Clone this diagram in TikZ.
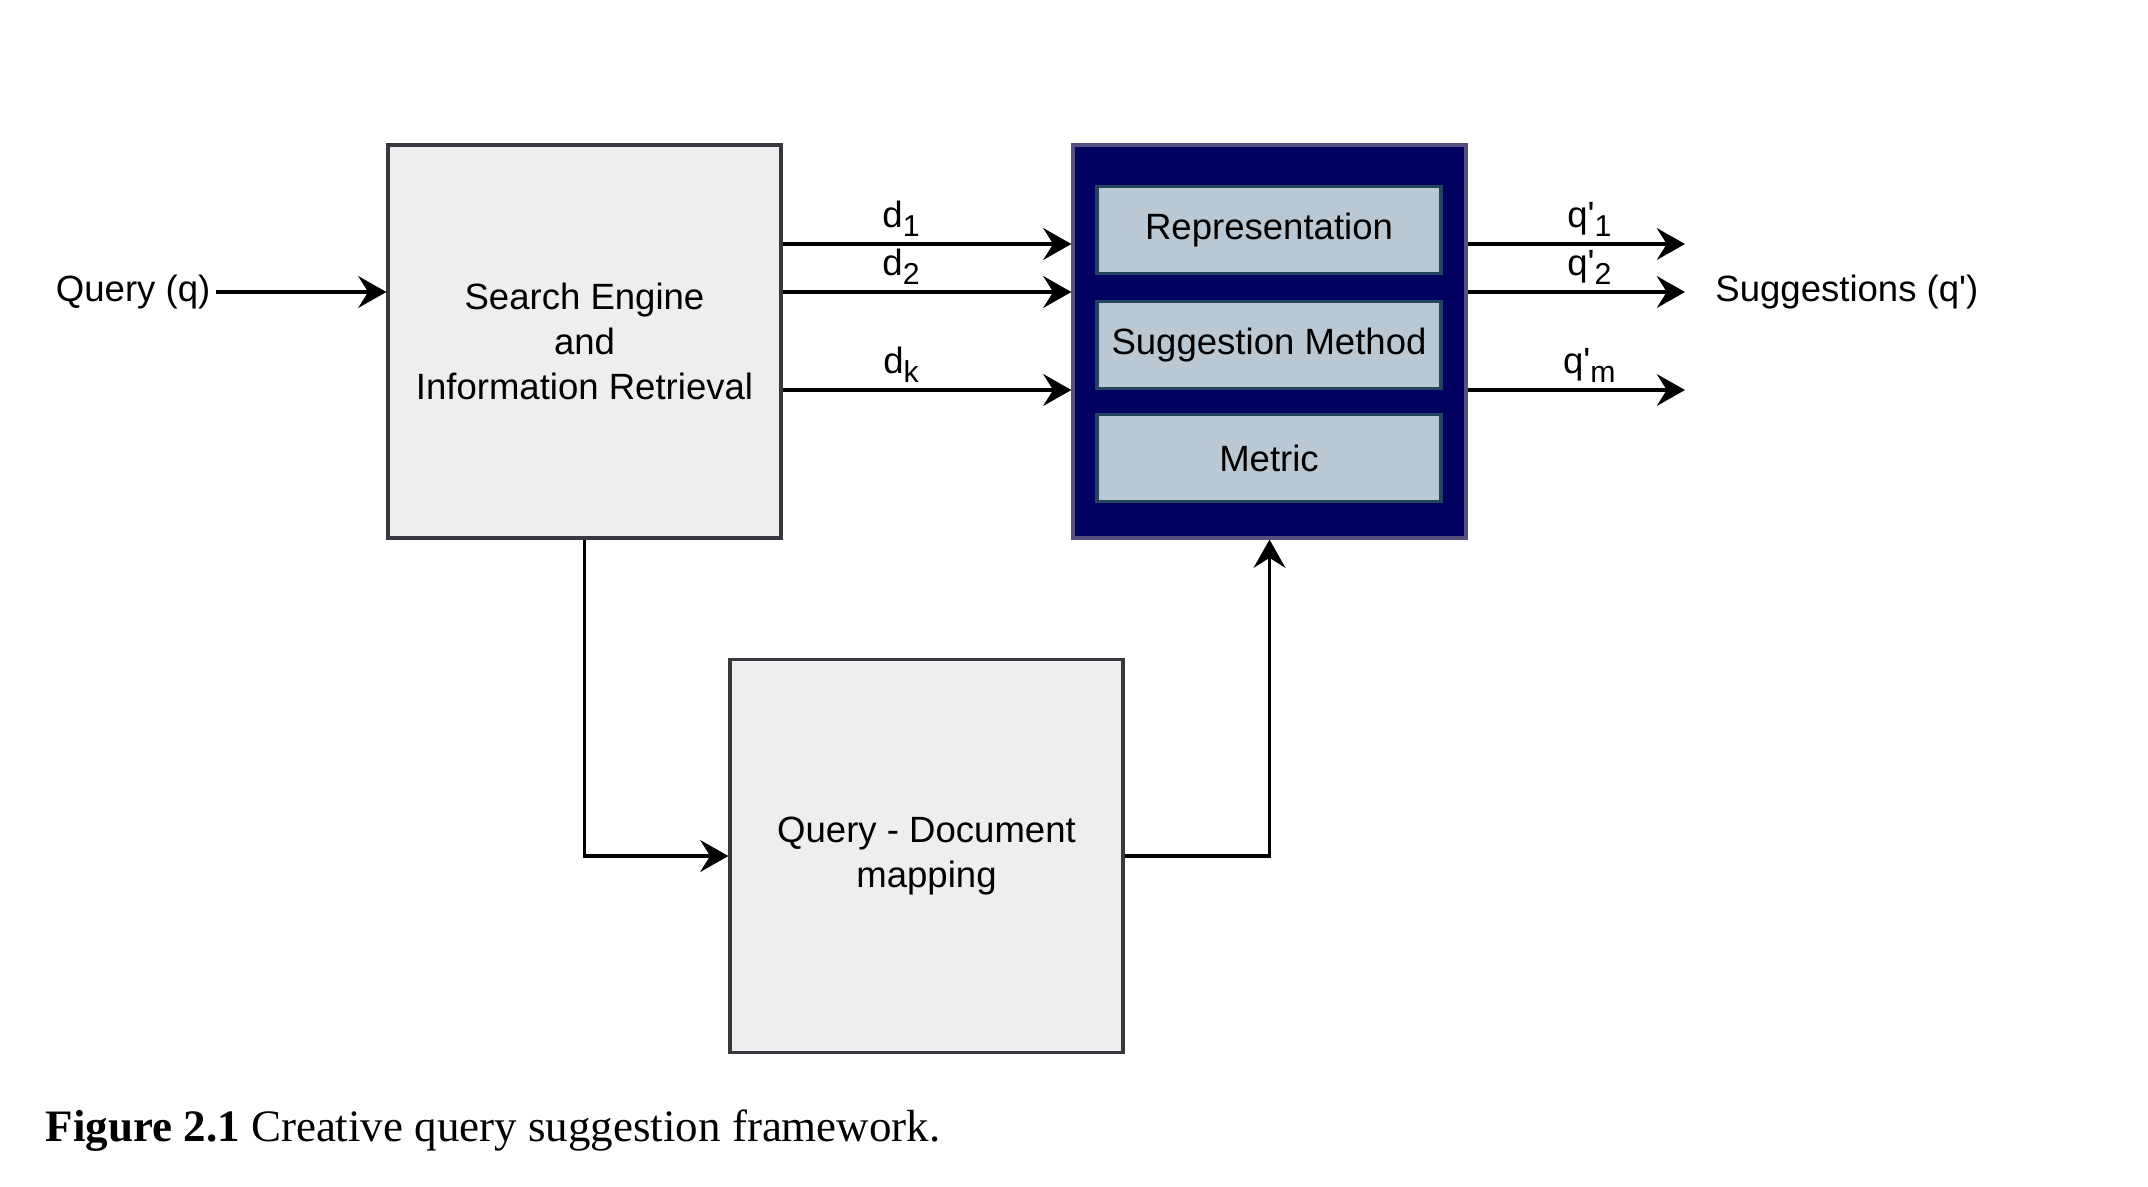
\documentclass[tikz,border=0pt]{standalone}
\usepackage{fontspec}
\setmainfont{Liberation Sans}
\newfontfamily\capfont{Liberation Serif}
\usetikzlibrary{arrows.meta, positioning}

\definecolor{boxfill}{HTML}{EEEEEE}
\definecolor{boxline}{HTML}{36393D}
\definecolor{navyfill}{HTML}{000060}
\definecolor{navyline}{HTML}{56517E}
\definecolor{partfill}{HTML}{BAC8D3}
\definecolor{partline}{HTML}{23445D}

\newcommand{\lowsub}[1]{\raisebox{-2.6pt}{\fontsize{8.6}{8.6}\selectfont #1}}
\newcommand{\qp}{q\textquotesingle}

\begin{document}
\begin{tikzpicture}[
    font=\fontsize{10.4}{12.7}\selectfont,
    arr/.style={-{Stealth[length=8pt,width=9pt,inset=2.8pt]}, line width=1.1pt},
    graybox/.style={draw=boxline, fill=boxfill, line width=0.9pt, minimum width=3.93cm, minimum height=3.93cm, align=center, inner sep=0pt},
    navybox/.style={draw=navyline, fill=navyfill, line width=0.9pt, minimum width=3.93cm, minimum height=3.93cm, inner sep=0pt},
    partbox/.style={draw=partline, fill=partfill, line width=1.1pt, minimum width=3.44cm, minimum height=0.87cm, inner sep=0pt},
    lbl/.style={anchor=base, yshift=4.8pt}
  ]
    \useasboundingbox (0,0) rectangle (21.48,-11.86);

    % blocks
    \node[graybox] (se) at (5.845,-3.415) {Search Engine\\and\\Information Retrieval};
    \node[navybox] (fw) at (12.695,-3.415) {};
    \node[partbox] (rep) at (12.69,-2.30) {Representation};
    \node[partbox] (sm) at (12.69,-3.45) {Suggestion Method};
    \node[partbox] (met) at (12.69,-4.58) {Metric};
    \node[graybox] (qd) at (9.265,-8.56) {Query - Document\\mapping};

    % input and output
    \node[anchor=east, inner sep=0pt] (q) at (2.11,-2.92) {Query (q)};
    \node[anchor=west] (sug) at (17.03,-2.92) {Suggestions (\qp)};
    \coordinate (tip) at (16.85,-2.92);
    \draw[arr] ([xshift=1.5pt]q.east) -- (se.west |- q.east);

    % documents
    \foreach \yy/\lab in {-2.44/d\lowsub{1}, -2.92/d\lowsub{2}, -3.90/d\lowsub{k}}
      \draw[arr] (se.east |- 0,\yy) -- (fw.west |- 0,\yy) node[lbl, pos=0.41] {\lab};

    % suggestions
    \foreach \yy/\lab in {-2.44/\qp\lowsub{1}, -2.92/\qp\lowsub{2}, -3.90/\qp\lowsub{m}}
      \draw[arr] (fw.east |- 0,\yy) -- (tip |- 0,\yy) node[lbl, pos=0.56] {\lab};

    % mapping
    \draw[arr] (se.south) |- (qd.west);
    \draw[arr] (qd.east) -| (fw.south);

    % caption
    \node[anchor=base west, inner sep=0pt, font=\capfont\fontsize{12.8}{15}\selectfont] (cap) at (0.45,-11.41)
      {\textbf{Figure 2.1} Creative query suggestion framework.};
\end{tikzpicture}
\end{document}
